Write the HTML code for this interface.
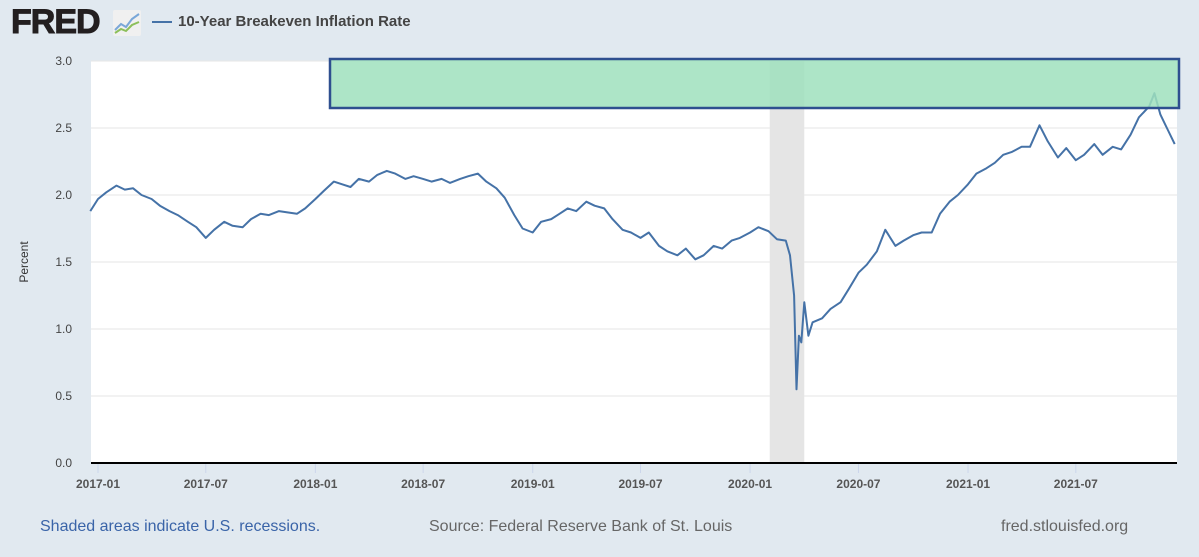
<!DOCTYPE html>
<html><head><meta charset="utf-8">
<style>
body{margin:0;width:1199px;height:557px;background:#e1e9f0;font-family:"Liberation Sans",sans-serif;overflow:hidden;position:relative}
.t{position:absolute;white-space:nowrap}
</style></head><body>
<div class="t" style="left:11px;top:3px;font:900 34px 'Liberation Sans',sans-serif;color:#231f20;letter-spacing:-1px;-webkit-text-stroke:1px #231f20">FRED</div>
<svg style="position:absolute;left:113px;top:10px" width="28" height="26"><rect x="0" y="0" width="28" height="26" fill="#f0f0f0" rx="2"/><polyline points="2,20 8,14 13,17 19,9 26,4" fill="none" stroke="#7aa7d8" stroke-width="2"/><polyline points="2,23 8,19 13,21 19,15 26,12" fill="none" stroke="#8cbf5a" stroke-width="2"/></svg>
<div style="position:absolute;left:152px;top:21px;width:20px;height:2px;background:#4572a7"></div>
<div class="t" style="left:178px;top:13px;font-size:15px;font-weight:bold;color:#444">10-Year Breakeven Inflation Rate</div>
<svg id="chart" width="1199" height="557" style="position:absolute;left:0;top:0"></svg>
<div class="t" style="left:40px;top:518px;font-size:16px;color:#3a64a8">Shaded areas indicate U.S. recessions.</div>
<div class="t" style="left:429px;top:518px;font-size:16px;color:#666">Source: Federal Reserve Bank of St. Louis</div>
<div class="t" style="left:1001px;top:518px;font-size:16px;color:#666">fred.stlouisfed.org</div>
<script>
const yTicks=[0,0.5,1,1.5,2,2.5,3];
const yTickLabels=["0.0","0.5","1.0","1.5","2.0","2.5","3.0"];
const xTickDates=["2017-01-01","2017-07-01","2018-01-01","2018-07-01","2019-01-01","2019-07-01","2020-01-01","2020-07-01","2021-01-01","2021-07-01"];
const xTickLabels=["2017-01","2017-07","2018-01","2018-07","2019-01","2019-07","2020-01","2020-07","2021-01","2021-07"];
const recession=["2020-02-03","2020-04-01"];
const seriesDates=["2016-12-19","2017-01-01","2017-01-15","2017-02-01","2017-02-15","2017-03-01","2017-03-15","2017-04-01","2017-04-15","2017-05-01","2017-05-15","2017-06-01","2017-06-15","2017-07-01","2017-07-15","2017-08-01","2017-08-15","2017-09-01","2017-09-15","2017-10-01","2017-10-15","2017-11-01","2017-11-15","2017-12-01","2017-12-15","2018-01-01","2018-01-15","2018-02-01","2018-02-15","2018-03-01","2018-03-15","2018-04-01","2018-04-15","2018-05-01","2018-05-15","2018-06-01","2018-06-15","2018-07-01","2018-07-15","2018-08-01","2018-08-15","2018-09-01","2018-09-15","2018-10-01","2018-10-15","2018-11-01","2018-11-15","2018-12-01","2018-12-15","2019-01-01","2019-01-15","2019-02-01","2019-02-15","2019-03-01","2019-03-15","2019-04-01","2019-04-15","2019-05-01","2019-05-15","2019-06-01","2019-06-15","2019-07-01","2019-07-15","2019-08-01","2019-08-15","2019-09-01","2019-09-15","2019-10-01","2019-10-15","2019-11-01","2019-11-15","2019-12-01","2019-12-15","2020-01-01","2020-01-15","2020-02-01","2020-02-15","2020-03-01","2020-03-08","2020-03-15","2020-03-19","2020-03-23","2020-03-27","2020-04-01","2020-04-08","2020-04-15","2020-05-01","2020-05-15","2020-06-01","2020-06-15","2020-07-01","2020-07-15","2020-08-01","2020-08-15","2020-09-01","2020-09-15","2020-10-01","2020-10-15","2020-11-01","2020-11-15","2020-12-01","2020-12-15","2021-01-01","2021-01-15","2021-02-01","2021-02-15","2021-03-01","2021-03-15","2021-04-01","2021-04-15","2021-05-01","2021-05-15","2021-06-01","2021-06-15","2021-07-01","2021-07-15","2021-08-01","2021-08-15","2021-09-01","2021-09-15","2021-10-01","2021-10-15","2021-11-01","2021-11-10","2021-11-20","2021-12-01","2021-12-14"];
const seriesValues=[1.88,1.97,2.02,2.07,2.04,2.05,2.00,1.97,1.92,1.88,1.85,1.80,1.76,1.68,1.74,1.80,1.77,1.76,1.82,1.86,1.85,1.88,1.87,1.86,1.90,1.97,2.03,2.10,2.08,2.06,2.12,2.10,2.15,2.18,2.16,2.12,2.14,2.12,2.10,2.12,2.09,2.12,2.14,2.16,2.10,2.05,1.98,1.85,1.75,1.72,1.80,1.82,1.86,1.90,1.88,1.95,1.92,1.90,1.82,1.74,1.72,1.68,1.72,1.62,1.58,1.55,1.60,1.52,1.55,1.62,1.60,1.66,1.68,1.72,1.76,1.73,1.67,1.66,1.55,1.25,0.55,0.95,0.90,1.20,0.95,1.05,1.08,1.15,1.20,1.30,1.42,1.48,1.58,1.74,1.62,1.66,1.70,1.72,1.72,1.86,1.95,2.00,2.08,2.16,2.20,2.24,2.30,2.32,2.36,2.36,2.52,2.40,2.28,2.35,2.26,2.30,2.38,2.30,2.36,2.34,2.45,2.58,2.66,2.76,2.60,2.50,2.38];
const svg=document.getElementById('chart');const NS='http://www.w3.org/2000/svg';
const L=91,R=1177,T=61,B=463;const d0=Date.parse("2017-01-01"),X0=98,PXD=0.5955;
function xs(d){return X0+(Date.parse(d)-d0)/86400000*PXD}
function ys(v){return B-(v/3)*(B-T)}
function mk(tag,at){const e=document.createElementNS(NS,tag);for(const k in at)e.setAttribute(k,at[k]);svg.appendChild(e);return e}
const bg=mk('rect',{x:L,y:T,width:R-L,height:B-T,fill:'#fff'});


yTicks.forEach((v,i)=>{
 if(v>0){const g=mk('line',{x1:L,x2:R,y1:ys(v),y2:ys(v),stroke:'#e6e6e6','stroke-width':1});
 
 }
 const t=mk('text',{x:72,y:ys(v)+4,'text-anchor':'end','font-size':12,fill:'#444','font-family':'Liberation Sans, sans-serif'});t.textContent=yTickLabels[i];
 
 
});
const rec=mk('rect',{x:xs(recession[0]),y:T,width:xs(recession[1])-xs(recession[0]),height:B-T,fill:'#e5e5e5'});


xTickDates.forEach((d,i)=>{
 const tk=mk('line',{x1:xs(d),x2:xs(d),y1:B,y2:B+10,stroke:'#ccd6eb'});
 
 
 const t=mk('text',{x:xs(d),y:B+25,'text-anchor':'middle','font-size':12,'font-weight':'bold',fill:'#555','font-family':'Liberation Sans, sans-serif'});t.textContent=xTickLabels[i];
 
 
});
const ax=mk('line',{x1:L,x2:R,y1:B,y2:B,stroke:'#000','stroke-width':2});


const yt=mk('text',{x:0,y:0,transform:'translate(28,262) rotate(-90)','text-anchor':'middle','font-size':12,fill:'#333','font-family':'Liberation Sans, sans-serif'});yt.textContent='Percent';


const pts=seriesDates.map((d,i)=>xs(d).toFixed(1)+','+ys(seriesValues[i]).toFixed(1)).join(' ');
const ln=mk('polyline',{points:pts,fill:'none',stroke:'#4572a7','stroke-width':2,'stroke-linejoin':'round'});


const hl=mk('rect',{x:330,y:59,width:849,height:49,fill:'#9fe0bd','fill-opacity':0.85,stroke:'#2e4f8f','stroke-width':2.5});


</script>
</body></html>
